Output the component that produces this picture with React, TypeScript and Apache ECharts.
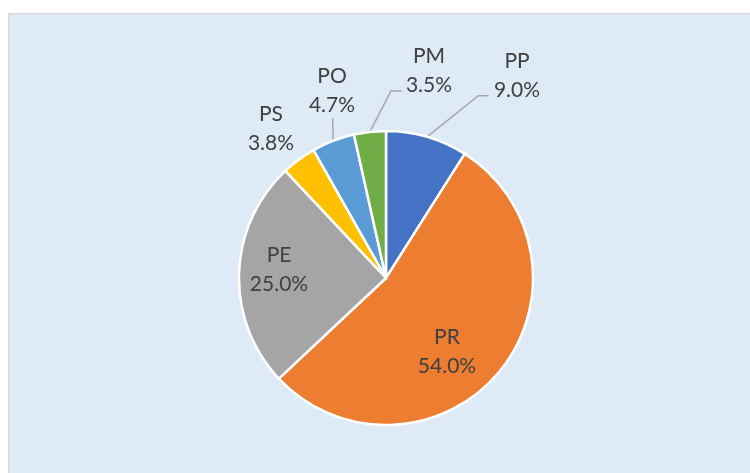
import React, { useEffect, useRef } from "react";
import * as echarts from "echarts";

const categories = ["PP", "PR", "PE", "PS", "PO", "PM"];
const values = [9.0, 54.0, 25.0, 3.8, 4.7, 3.5];
const colors = ["#4472C4", "#ED7D31", "#A5A5A5", "#FFC000", "#5B9BD5", "#70AD47"];

// label block centres (page px) and leader-line elbows
const labelPos: [number, number][] = [
  [517, 73.5],
  [447, 350],
  [279, 268],
  [271, 127],
  [332, 89],
  [429, 69],
];
const elbows: ([number, number][] | null)[] = [
  [[478.3, 95.7], [488.3, 95.7]],
  null,
  null,
  null,
  [[332.7, 118.3], [332.7, 118.3]],
  [[391, 91], [401.7, 91]],
];

export default function App() {
  const ref = useRef<HTMLDivElement>(null);
  useEffect(() => {
    if (!ref.current) return;
    const chart = echarts.init(ref.current, null, { renderer: "svg" });
    chart.setOption({
      animation: false,
      graphic: [
        {
          type: "rect",
          z: -10,
          shape: { x: 8.75, y: 13.75, width: 760, height: 480 },
          style: { fill: "#DEEAF6", stroke: "#D9D9D9", lineWidth: 1.5 },
          silent: true,
        },
      ],
      series: [
        {
          type: "pie",
          center: [386, 278],
          radius: 147,
          startAngle: 90,
          clockwise: true,
          data: categories.map((c, i) => ({
            name: c,
            value: values[i],
            itemStyle: { color: colors[i] },
            labelLine: { show: elbows[i] !== null },
          })),
          itemStyle: { borderColor: "#FFFFFF", borderWidth: 2.5 },
          label: {
            show: true,
            position: "outside",
            formatter: (p: any) => `${p.name}\n${Number(p.value).toFixed(1)}%`,
            fontFamily: "Lato, 'Open Sans', sans-serif",
            fontSize: 21,
            lineHeight: 29,
            color: "#404040",
            align: "center",
          },
          labelLine: {
            show: true,
            lineStyle: { color: "#A6A6A6", width: 1.5 },
          },
          labelLayout: (params: any) => {
            const i = params.dataIndex;
            const [x, y] = labelPos[i];
            const res: any = { x, y, align: "center", verticalAlign: "middle" };
            const e = elbows[i];
            if (e && params.labelLinePoints) {
              res.labelLinePoints = [params.labelLinePoints[0], e[0], e[1]];
            }
            return res;
          },
        },
      ],
    });
    return () => chart.dispose();
  }, []);
  return (
    <div
      ref={ref}
      style={{ position: "fixed", left: 0, top: 0, width: 750, height: 473 }}
    />
  );
}
